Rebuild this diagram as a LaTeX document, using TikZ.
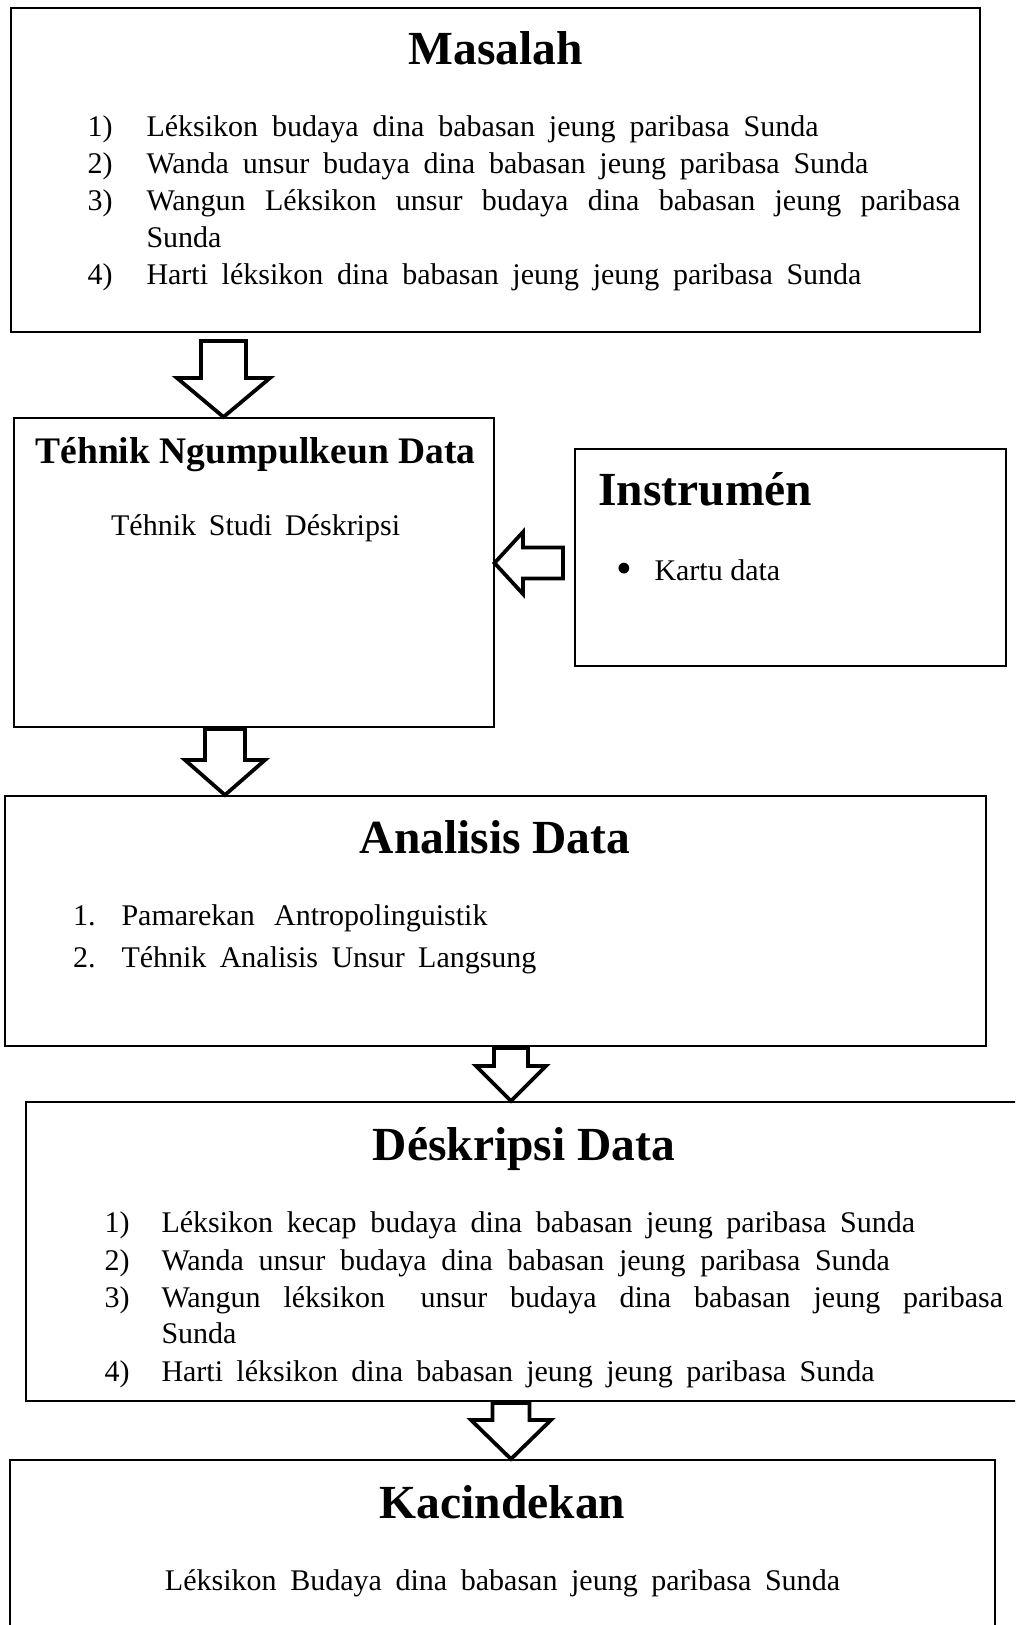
\documentclass[tikz,border=0pt]{standalone}
\usepackage{fontspec}
\setmainfont{Liberation Serif}
\usetikzlibrary{positioning,fit,calc}

% outlined block arrow pointing down: x, from node, to node,
% shaft half width, head half width, head length, gap under the top box
\newcommand{\downblock}[7]{%
    \draw[blockarrow] ($(#1-#4,0 |- #2.south)+(0,#7)$) -- ($(#1+#4,0 |- #2.south)+(0,#7)$)
        -- ($(#1+#4,0 |- #3.north)+(0,-#6)$) -- ($(#1+#5,0 |- #3.north)+(0,-#6)$)
        -- (#1,0 |- #3.north)
        -- ($(#1-#5,0 |- #3.north)+(0,-#6)$) -- ($(#1-#4,0 |- #3.north)+(0,-#6)$)
        -- cycle;}

\begin{document}
\begin{tikzpicture}[x=0.4pt,y=-0.4pt]
    \tikzstyle{box}=[draw,line width=0.8pt,inner sep=0pt]
    \tikzstyle{blockarrow}=[draw,line width=1.5pt,fill=white,miter limit=20]
    \tikzstyle{head}=[font=\fontsize{19}{23}\selectfont\bfseries,inner sep=0pt,anchor=base]
    \tikzstyle{subhead}=[font=\fontsize{15}{18}\selectfont\bfseries,inner sep=0pt,anchor=base]
    \tikzstyle{body}=[font=\fontsize{12}{14}\selectfont,inner sep=0pt,anchor=base west]

    \useasboundingbox (0,0) rectangle (1015,1625);
    \clip (0,0) rectangle (1015,1625);

    % Draw the boxes
    \node[box,fit={(11,8) (980,332)}] (masalah) {};
    \node[box,fit={(13.5,418) (493.5,727)}] (ngumpul) {};
    \node[box,fit={(575,449) (1006,666)}] (instrumen) {};
    \node[box,fit={(4.5,796) (986,1046)}] (analisis) {};
    \node[box,fit={(26,1102) (1030,1401)}] (deskripsi) {};
    \node[box,fit={(10,1460) (995,1640)}] (kacindekan) {};

    % Titles
    \node[head] (masalah-title) at (495.5,65) {Masalah};
    \node[subhead] (ngumpul-title) at (255.5,463) {Téhnik Ngumpulkeun Data};
    \node[head,anchor=base west] (instrumen-title) at (598,505) {Instrumén};
    \node[head] (analisis-title) at (495,853) {Analisis Data};
    \node[head] (deskripsi-title) at (524,1160) {Déskripsi Data};
    \node[head] (kacindekan-title) at (502.5,1518) {Kacindekan};

    % Masalah list
    \foreach \name/\y/\w/\txt in {1/136.5/268.8/{Léksikon budaya dina babasan jeung paribasa Sunda},
                                  2/174/288.8/{Wanda unsur budaya dina babasan jeung paribasa Sunda},
                                  3/211/325.6/{Wangun Léksikon unsur budaya dina babasan jeung paribasa},
                                  4/285/286/{Harti léksikon dina babasan jeung jeung paribasa Sunda}}
    {
        \node[body] (M-num-\name) at (87,\y) {\name)};
        \node[body] (M-\name) at (146,\y) {\makebox[\w pt][s]{\txt}};
    }
    \node[body] (M-3b) at (146,247.5) {Sunda};

    % Teknik and instrumen
    \node[body,anchor=base] (ngumpul-text) at (255.6,535) {\makebox[115.6pt][s]{Téhnik Studi Déskripsi}};
    \node[body,font=\fontsize{18}{18}\selectfont] (bullet) at (616,583) {\textbullet};
    \node[body] (kartu) at (654,580) {Kartu data};

    % Analisis list
    \foreach \name/\y/\w/\txt in {1/925/146.4/{Pamarekan Antropolinguistik},
                                  2/967/166/{Téhnik Analisis Unsur Langsung}}
    {
        \node[body] (A-num-\name) at (72.5,\y) {\name.};
        \node[body] (A-\name) at (121,\y) {\makebox[\w pt][s]{\txt}};
    }

    % Deskripsi list
    \foreach \name/\y/\w/\txt in {1/1232/301.4/{Léksikon kecap budaya dina babasan jeung paribasa Sunda},
                                  2/1270/291.4/{Wanda unsur budaya dina babasan jeung paribasa Sunda},
                                  3/1307/336.6/{Wangun léksikon\hspace{5pt} unsur budaya dina babasan jeung paribasa},
                                  4/1381/285.2/{Harti léksikon dina babasan jeung jeung paribasa Sunda}}
    {
        \node[body] (D-num-\name) at (104,\y) {\name)};
        \node[body] (D-\name) at (161,\y) {\makebox[\w pt][s]{\txt}};
    }
    \node[body] (D-3b) at (161,1343) {Sunda};

    % Kacindekan
    \node[body,anchor=base] (kacindekan-text) at (502.5,1590) {\makebox[270pt][s]{Léksikon Budaya dina babasan jeung paribasa Sunda}};

    % Block arrows between the boxes
    \downblock{223.5}{masalah}{ngumpul}{22.5}{46.5}{39}{8}
    \downblock{225}{ngumpul}{analisis}{20}{40}{35}{1}
    \downblock{511}{analisis}{deskripsi}{17}{35}{35}{1}
    \downblock{511}{deskripsi}{kacindekan}{18.5}{40}{39}{1}

    % Instrumen feeds the collecting box
    \draw[blockarrow] (ngumpul.east |- 0,563)
        -- ($(ngumpul.east |- 0,532)+(28.5,0)$) -- ($(ngumpul.east |- 0,547.5)+(28.5,0)$)
        -- ($(instrumen.west |- 0,547.5)+(-11,0)$) -- ($(instrumen.west |- 0,578.5)+(-11,0)$)
        -- ($(ngumpul.east |- 0,578.5)+(28.5,0)$) -- ($(ngumpul.east |- 0,594)+(28.5,0)$)
        -- cycle;

\end{tikzpicture}
\end{document}
